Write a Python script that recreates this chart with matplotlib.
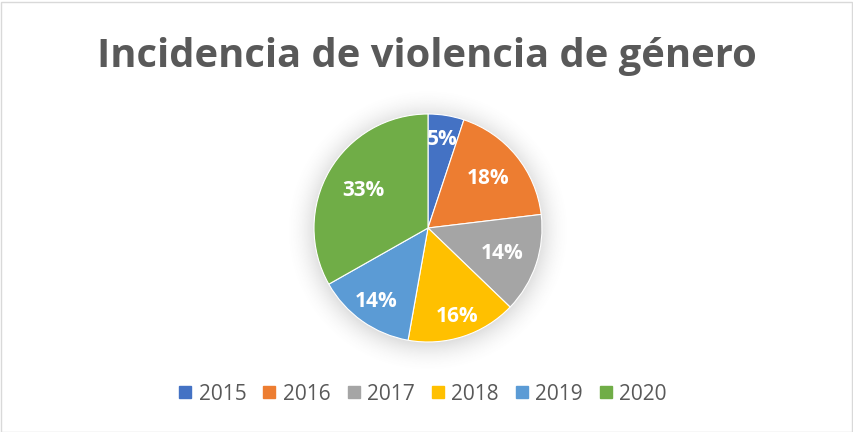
import numpy as np
import matplotlib
matplotlib.use("Agg")
import matplotlib.pyplot as plt
from matplotlib.patches import Rectangle
from matplotlib.lines import Line2D

years = ["2015", "2016", "2017", "2018", "2019", "2020"]
shares = [5.1, 18.0, 14.1, 15.6, 14.0, 33.2]
colors = ["#4472C4", "#ED7D31", "#A5A5A5", "#FFC000", "#5B9BD5", "#70AD47"]
title = "Incidencia de violencia de género"

W, H = 854, 432
fig = plt.figure(figsize=(W / 100, H / 100), dpi=100)
fig.patch.set_facecolor("white")

# border
fig.patches.append(Rectangle((0.5 / W, 0.5 / H), 1 - 2 / W, 1 - 2 / H,
                             transform=fig.transFigure, fill=False,
                             edgecolor="#D9D9D9", linewidth=1.0))

# pie axes
R = 114.0
cx, cy = 428, 228
half = 160
ax = fig.add_axes([(cx - half) / W, (H - cy - half) / H, 2 * half / W, 2 * half / H])
lim = half / R

# soft shadow
n = 400
g = np.linspace(-lim, lim, n)
X, Y = np.meshgrid(g, g)
Rr = np.hypot(X, Y + 0.02)
alpha = np.clip(1 - (Rr - 0.96) / 0.30, 0, 1) ** 2 * 0.26
rgba = np.zeros((n, n, 4))
rgba[..., :3] = 0.4
rgba[..., 3] = alpha
ax.imshow(rgba, extent=(-lim, lim, -lim, lim), origin="lower", zorder=0,
          interpolation="bilinear")

wedges, _ = ax.pie(shares, colors=colors, startangle=90, counterclock=False,
                   radius=1.0, wedgeprops=dict(edgecolor="white", linewidth=0.8),
                   normalize=True)
for w in wedges:
    w.set_zorder(2)

label_r = [0.79, 0.68, 0.69, 0.82, 0.79, 0.66]
total = sum(shares)
for w, s, lr in zip(wedges, shares, label_r):
    mid = np.deg2rad((w.theta1 + w.theta2) / 2)
    ax.text(lr * np.cos(mid), lr * np.sin(mid), f"{s / total * 100:.0f}%",
            ha="center", va="center", color="white", fontsize=15,
            fontweight="bold", family="Open Sans", zorder=3)

ax.set_xlim(-lim, lim)
ax.set_ylim(-lim, lim)
ax.set_aspect("equal")
ax.axis("off")

# title, fitted to width
t = fig.text(0.5, 1 - 67 / H, title, ha="center", va="baseline",
             fontsize=30, fontweight="bold", color="#595959", family="Open Sans")
fig.canvas.draw()
bb = t.get_window_extent()
t.set_fontsize(30 * 660 / bb.width)

# legend
handles = [Line2D([], [], marker="s", linestyle="none", markersize=9,
                  markerfacecolor=c, markeredgecolor=c) for c in colors]
leg = fig.legend(handles, years, loc="center", ncol=6,
                 bbox_to_anchor=(423 / W, 1 - 394 / H), frameon=False,
                 prop=dict(family="Open Sans", size=15),
                 handlelength=0.6, handletextpad=0.35, columnspacing=0.8,
                 borderpad=0, borderaxespad=0)
for tx in leg.get_texts():
    tx.set_color("#595959")

fig.savefig("out.png", dpi=100, facecolor="white")
